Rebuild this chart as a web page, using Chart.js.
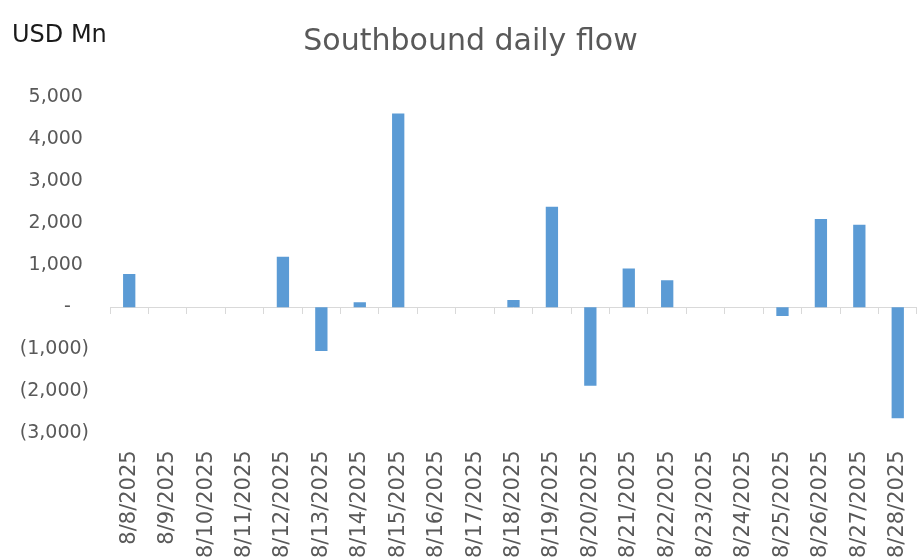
<!DOCTYPE html>
<html>
<head>
<meta charset="utf-8">
<script src="https://cdn.jsdelivr.net/npm/chart.js@4"></script>
<style>
  body { margin: 0; background: #fff; }
  #wrap { width: 923px; height: 559px; }
</style>
</head>
<body>
<div id="wrap"><canvas id="flowChart"></canvas></div>
<script>
const days = ['8/8/2025', '8/9/2025', '8/10/2025', '8/11/2025', '8/12/2025', '8/13/2025', '8/14/2025',
  '8/15/2025', '8/16/2025', '8/17/2025', '8/18/2025', '8/19/2025', '8/20/2025', '8/21/2025',
  '8/22/2025', '8/23/2025', '8/24/2025', '8/25/2025', '8/26/2025', '8/27/2025', '8/28/2025'];
const flows = [790, null, null, null, 1200, -1040, 120, 4610, null, null, 170, 2390, -1870, 920,
  640, null, null, -210, 2100, 1960, -2640];
const yTicks = [-3000, -2000, -1000, 0, 1000, 2000, 3000, 4000, 5000];

const grey = '#595959';

function fmtTick(v) {
  if (v === 0) return '-   ';
  const s = Math.abs(v).toLocaleString('en-US');
  return v < 0 ? '(' + s + ')' : s + ' ';
}

// unit label at the top left
const unitLabel = {
  id: 'unitLabel',
  afterDraw(chart) {
    const c = chart.ctx;
    c.save();
    c.font = '24px "DejaVu Sans"';
    c.fillStyle = '#1a1a1a';
    c.textBaseline = 'middle';
    c.textAlign = 'left';
    c.fillText('USD Mn', 12, 36);
    c.restore();
  }
};

new Chart(document.getElementById('flowChart'), {
  type: 'bar',
  data: {
    labels: days,
    datasets: [{
      label: 'Southbound daily flow',
      data: flows,
      backgroundColor: '#5B9BD5',
      barPercentage: 0.32,
      categoryPercentage: 1
    }]
  },
  options: {
    responsive: true,
    maintainAspectRatio: false,
    animation: false,
    layout: { padding: { left: 20, right: 2, top: 0, bottom: 1 } },
    plugins: {
      legend: { display: false },
      tooltip: { enabled: false },
      title: {
        display: true,
        text: 'Southbound daily flow',
        color: grey,
        font: { family: 'DejaVu Sans', size: 30, weight: 'normal' },
        padding: { top: 24, bottom: 37 }
      }
    },
    scales: {
      // axis line through zero with separators between the days
      x: {
        type: 'category',
        position: { y: 0 },
        offset: true,
        ticks: { display: false },
        grid: { display: true, drawOnChartArea: false, drawTicks: true, tickLength: 6, offset: true, color: '#d9d9d9' },
        border: { display: true, color: '#d9d9d9', width: 1 },
        afterFit(scale) { scale.height = 0; }
      },
      x2: {
        type: 'category',
        position: 'bottom',
        offset: true,
        grid: { display: true, drawOnChartArea: false, drawTicks: true, tickLength: 17, color: 'rgba(0,0,0,0)' },
        border: { display: false },
        ticks: {
          color: grey,
          font: { family: 'DejaVu Sans', size: 21 },
          minRotation: 90,
          maxRotation: 90,
          autoSkip: false,
          padding: 0
        }
      },
      y: {
        min: yTicks[0],
        max: yTicks[yTicks.length - 1],
        afterBuildTicks(scale) {
          scale.ticks = yTicks.map(v => ({ value: v }));
        },
        afterFit(scale) { scale.width = 90; },
        grid: { display: false, drawTicks: false },
        border: { display: false },
        ticks: {
          color: grey,
          font: { family: 'DejaVu Sans', size: 19 },
          padding: 21,
          callback: v => fmtTick(v)
        }
      }
    }
  },
  plugins: [unitLabel]
});
</script>
</body>
</html>
